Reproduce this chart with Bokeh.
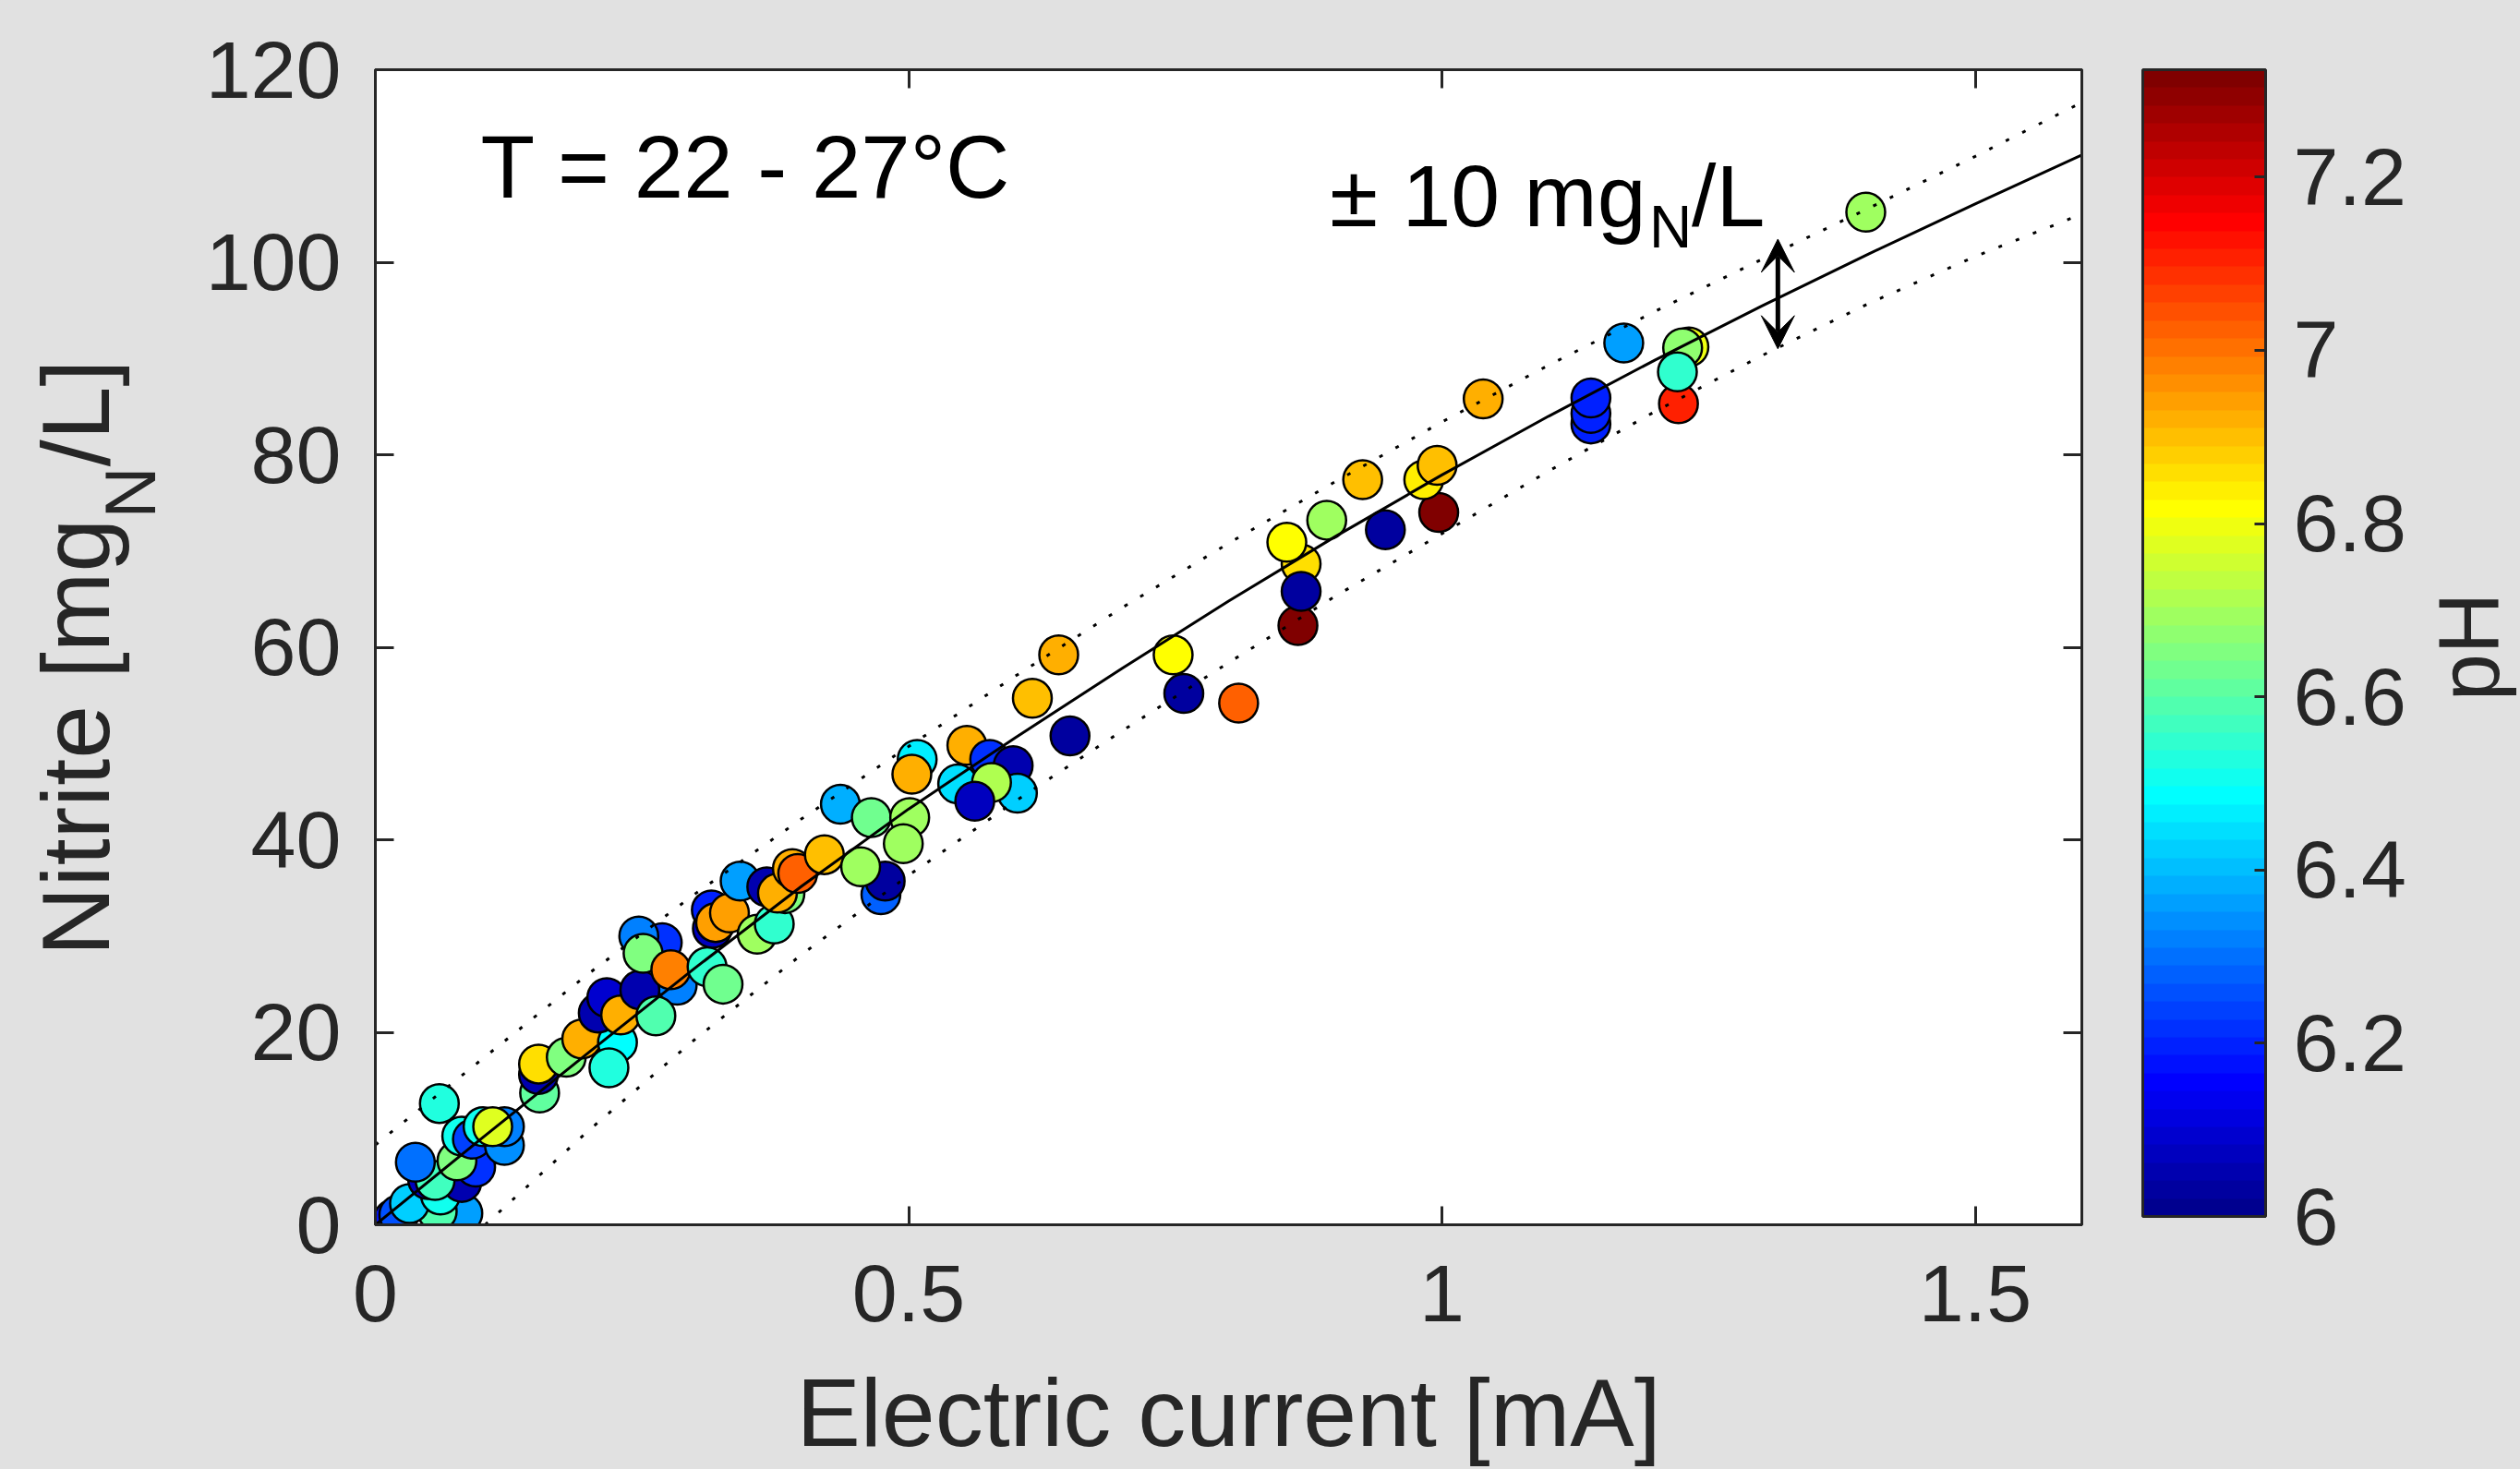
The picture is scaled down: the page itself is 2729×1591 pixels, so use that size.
import numpy as np
from math import pi
from bokeh.plotting import figure
from bokeh.layouts import row
from bokeh.models import (ColumnDataSource, Range1d, LinearAxis, FixedTicker, LinearColorMapper,
                          ColorBar, Label, Arrow, VeeHead, CustomJSTickFormatter)
from bokeh.transform import transform
from bokeh.embed import file_html
from bokeh.resources import INLINE

# ---------------- data ----------------
current_mA = [0.020, 0.017, 0.022, 0.082, 0.058, 0.032, 0.061, 0.049, 0.081, 0.056,
              0.0375, 0.094, 0.0765, 0.081, 0.091, 0.121, 0.101, 0.121, 0.110, 0.060,
              0.154, 0.153, 0.153, 0.179, 0.1935, 0.227, 0.219, 0.209, 0.217, 0.230,
              0.283, 0.248, 0.263, 0.269, 0.247, 0.251, 0.277, 0.311, 0.326, 0.316,
              0.315, 0.319, 0.332, 0.342, 0.367, 0.358, 0.374, 0.384, 0.377, 0.391,
              0.396, 0.421, 0.474, 0.478, 0.455, 0.436, 0.465, 0.501, 0.495, 0.508,
              0.503, 0.5546, 0.576, 0.598, 0.546, 0.602, 0.5777, 0.562, 0.6513, 0.616,
              0.6407, 0.748, 0.758, 0.8094, 0.865, 0.868, 0.868, 0.8546, 0.892, 0.947,
              0.997, 0.983, 0.9955, 0.9257, 1.0387, 1.1397, 1.1397, 1.1397, 1.1705, 1.2316,
              1.2257, 1.2218, 1.2208, 1.3974]
nitrite_mgN = [0.3, 0.6, 1.05, 1.2, 1.4, 2.2, 3.1, 4.7, 4.4, 4.6,
               6.5, 6.0, 6.64, 9.2, 8.9, 8.25, 10.2, 10.2, 10.2, 12.6,
               13.7, 15.6, 16.7, 17.4, 19.3, 18.95, 16.3, 22.0, 23.6, 21.8,
               24.9, 24.4, 21.7, 29.3, 30.0, 28.2, 26.5, 26.8, 25.0, 30.8,
               32.7, 31.4, 32.4, 35.7, 35.1, 30.2, 31.25, 34.4, 34.45, 37.0,
               36.5, 38.45, 34.3, 35.7, 37.2, 43.7, 42.3, 42.3, 39.6, 48.35,
               46.8, 49.8, 48.35, 47.7, 45.8, 44.85, 45.95, 44.0, 50.8, 54.7,
               59.2, 59.2, 55.2, 54.2, 62.25, 68.65, 65.8, 70.9, 73.2, 72.2,
               74.0, 77.4, 78.9, 77.4, 85.8, 83.2, 84.3, 85.9, 91.6, 91.2,
               91.1, 85.3, 88.6, 105.2]
ph = [6.12, 6.17, 6.25, 6.37, 6.58, 6.42, 6.50, 6.07, 6.05, 6.57,
      6.30, 6.22, 6.66, 6.50, 6.23, 6.35, 6.50, 6.33, 6.77, 6.52,
      6.61, 6.05, 6.85, 6.66, 6.93, 6.48, 6.52, 6.05, 6.10, 6.93,
      6.33, 6.05, 6.58, 6.22, 6.33, 6.66, 6.98, 6.54, 6.63, 6.08,
      6.19, 6.94, 6.94, 6.37, 6.05, 6.70, 6.54, 6.66, 6.92, 6.93,
      7.03, 6.90, 6.27, 6.04, 6.70, 6.39, 6.63, 6.70, 6.70, 6.47,
      6.92, 6.92, 6.22, 6.05, 6.44, 6.42, 6.71, 6.07, 6.03, 6.89,
      6.93, 6.81, 6.04, 7.03, 7.32, 6.85, 6.04, 6.81, 6.70, 6.04,
      7.32, 6.83, 6.89, 6.89, 6.92, 6.19, 6.19, 6.19, 6.37, 6.79,
      6.68, 7.10, 6.54, 6.70]

fit_x = [0.0, 0.1, 0.2, 0.3, 0.4, 0.5, 0.6, 0.7, 0.8, 0.9, 1.0, 1.1, 1.2, 1.3, 1.4, 1.5, 1.6]
fit_y = [0.0, 9.0, 17.9, 26.7, 35.2, 43.2, 50.6, 57.8, 64.8, 71.5, 77.9, 84.0, 89.85, 95.45, 100.85, 106.05, 111.15]
upper_y = [8.3, 17.2, 26.1, 34.4, 42.2, 49.7, 57.0, 64.1, 70.8, 77.2, 83.4, 89.3, 94.9, 100.3, 105.6, 111.0, 116.6]
lower_y = [-10.3, -0.3, 9.8, 19.3, 28.1, 36.3, 44.0, 51.3, 58.4, 65.3, 71.8, 78.3, 84.5, 90.3, 95.7, 100.6, 105.0]

x_ticks = [0, 0.5, 1, 1.5]
y_ticks = [0, 20, 40, 60, 80, 100, 120]
ph_ticks = [6.0, 6.2, 6.4, 6.6, 6.8, 7.0, 7.2]
ph_low, ph_high = 6.0, 7.324


def jet(m=64):
    n = int(np.ceil(m / 4))
    u = np.concatenate([np.arange(1, n + 1) / n, np.ones(n - 1), np.arange(n, 0, -1) / n])
    g = int(np.ceil(n / 2)) - (1 if m % 4 == 1 else 0) + np.arange(1, len(u) + 1)
    r = g + n
    b = g - n
    J = np.zeros((m, 3))
    for idx, col in ((r, 0), (g, 1), (b, 2)):
        mask = (idx >= 1) & (idx <= m)
        J[idx[mask] - 1, col] = u[mask]
    return ['#%02x%02x%02x' % tuple(int(round(c * 255)) for c in row_) for row_ in J]


FONT = "Liberation Sans"
AX = "#262626"
BG = "#e1e1e1"
H = 1591
FRAME_L, FRAME_R, FRAME_T, FRAME_B = 406, 2254, 75, 1326   # absolute page pixels
LEFT_W = 200
MAIN_END = FRAME_R + 3
MAIN_W = MAIN_END - LEFT_W
RIGHT_W = 2729 - MAIN_END
Y_LO, Y_HI = 0, 120
PX_PER_Y = (FRAME_B - FRAME_T) / (Y_HI - Y_LO)

p = figure(width=MAIN_W, height=H, output_backend="svg", toolbar_location=None,
           x_range=Range1d(0, 1.6), y_range=Range1d(Y_LO, Y_HI),
           min_border_left=FRAME_L - LEFT_W, min_border_right=MAIN_END - FRAME_R,
           min_border_top=FRAME_T, min_border_bottom=H - FRAME_B,
           background_fill_color="white", border_fill_color=BG,
           outline_line_color=AX, outline_line_width=3)
p.grid.visible = False

fmt = CustomJSTickFormatter(code="return String(Math.round(tick*10)/10);")

for ax in (p.xaxis[0], p.yaxis[0]):
    ax.major_tick_in = 20
    ax.major_tick_out = 0
    ax.minor_tick_line_color = None
    ax.major_tick_line_width = 3
    ax.major_tick_line_color = AX
    ax.axis_line_width = 3
    ax.axis_line_color = AX
    ax.major_label_text_font = FONT
    ax.major_label_text_font_size = "88px"
    ax.major_label_text_color = AX
    ax.formatter = fmt
p.yaxis[0].major_label_standoff = 37
p.xaxis[0].major_label_standoff = 44
p.xaxis[0].ticker = FixedTicker(ticks=x_ticks)
p.yaxis[0].ticker = FixedTicker(ticks=y_ticks)
p.xaxis[0].axis_label = "Electric current [mA]"
p.xaxis[0].axis_label_text_font = FONT
p.xaxis[0].axis_label_text_font_size = "104px"
p.xaxis[0].axis_label_text_font_style = "normal"
p.xaxis[0].axis_label_text_color = AX
p.xaxis[0].axis_label_standoff = 38


def mirror_axis(ticks):
    return LinearAxis(ticker=FixedTicker(ticks=ticks), major_tick_in=20, major_tick_out=0,
                      major_tick_line_width=3, major_tick_line_color=AX, minor_tick_line_color=None,
                      axis_line_width=3, axis_line_color=AX, major_label_text_color=None)


p.add_layout(mirror_axis(x_ticks), "above")
p.add_layout(mirror_axis(y_ticks), "right")

mapper = LinearColorMapper(palette=jet(64), low=ph_low, high=ph_high)

src = ColumnDataSource(dict(x=current_mA, y=nitrite_mgN, ph=ph))
p.scatter("x", "y", source=src, marker="circle", size=42,
          fill_color=transform("ph", mapper), line_color="black", line_width=2.5)

p.line(fit_x, fit_y, line_color="black", line_width=3)
p.line(fit_x, upper_y, line_color="black", line_width=3, line_dash="4 16")
p.line(fit_x, lower_y, line_color="black", line_width=3, line_dash="4 16")

MID = 0.35  # em; offset between the anchor used by Bokeh and the alphabetic baseline


def lab(fig, text, x, y, size, color="black", angle=0, align="left", baseline="alphabetic"):
    fig.add_layout(Label(x=x, y=y, text=text, text_font=FONT, text_font_size=f"{size}px",
                         text_color=color, angle=angle, text_align=align,
                         text_baseline=baseline))


def y_of(px_from_top, size):
    return (FRAME_B - (px_from_top - MID * size)) / PX_PER_Y


def x_of(px):
    return (px - FRAME_L) / ((FRAME_R - FRAME_L) / 1.6)


lab(p, "T = 22 - 27°C", x_of(520), y_of(214, 96), 96)
lab(p, "± 10 mg", x_of(1439.5), y_of(245, 95), 95)
lab(p, "N", x_of(1785.4), y_of(268, 64), 64)
lab(p, "/L", x_of(1831.6), y_of(245, 95), 95)

p.add_layout(Arrow(x_start=1.315, y_start=91.0, x_end=1.315, y_end=102.4, line_width=5,
                   line_color="black",
                   start=VeeHead(size=36, fill_color="black", line_color="black"),
                   end=VeeHead(size=36, fill_color="black", line_color="black")))


def strip(width):
    # frames of a row are aligned with the main frame, so share its y scale
    f = figure(width=width, height=H, output_backend="svg", toolbar_location=None,
               x_axis_type=None, y_axis_type=None, min_border=0,
               x_range=Range1d(0, width), y_range=Range1d(Y_LO, Y_HI),
               background_fill_color=BG, border_fill_color=BG, outline_line_color=None)
    f.grid.visible = False
    return f


ys = lambda px: (FRAME_B - px) / PX_PER_Y  # nitrite value at a page row
EM_ASC, EM_DESC = 0.905, 0.212


def vlabel(fig, text, size, base_x, start_row, adv):
    mid_x = base_x - (EM_ASC - EM_DESC) / 2 * size
    centre_row = start_row - adv * size / 2
    lab(fig, text, mid_x, ys(centre_row), size, AX, angle=pi / 2, align="center", baseline="middle")
    return start_row - adv * size


left = strip(LEFT_W)
r1 = vlabel(left, "Nitrite [mg", 104, 118, 1035, 4.556)
r2 = vlabel(left, "N", 78, 168, r1, 0.722)
vlabel(left, "/L]", 104, 118, r2, 1.112)

right = strip(RIGHT_W)
cb = ColorBar(color_mapper=mapper, ticker=FixedTicker(ticks=ph_ticks), formatter=fmt,
              width=133, height=1242, location=(2320 - MAIN_END, FRAME_B - 1317), padding=0, margin=0,
              bar_line_color=AX, bar_line_width=3,
              major_tick_in=12, major_tick_out=0, major_tick_line_color=AX, major_tick_line_width=3,
              minor_tick_line_color=None,
              major_label_text_font=FONT, major_label_text_font_size="88px",
              major_label_text_color=AX, label_standoff=30,
              background_fill_alpha=0, border_line_color=None)
right.add_layout(cb)
vlabel(right, "pH", 92, 2705 - MAIN_END, 700 + 1.278 * 92 / 2, 1.278)

layout = row(left, p, right, spacing=0, styles={"background-color": BG})
open("out.html", "w").write(file_html(layout, INLINE))
